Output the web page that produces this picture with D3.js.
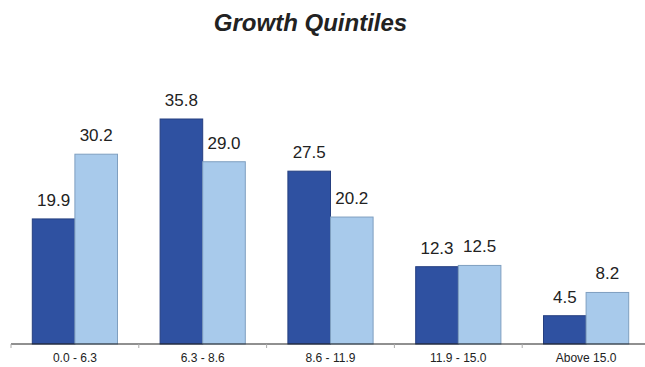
<!DOCTYPE html>
<html>
<head>
<meta charset="utf-8">
<script src="https://cdn.jsdelivr.net/npm/d3@7"></script>
<style>
  html, body { margin: 0; padding: 0; background: #fff; }
  svg { display: block; }
  text { font-family: "Liberation Sans", Arial, Helvetica, sans-serif; fill: #222; }
</style>
</head>
<body>
<svg id="chart" width="645" height="367"></svg>
<script>
// Quintile ranges and the two series shown for each
const categories = ["0.0 - 6.3", "6.3 - 8.6", "8.6 - 11.9", "11.9 - 15.0", "Above 15.0"];
const seriesNames = ["A", "B"];
const seriesA = [19.9, 35.8, 27.5, 12.3, 4.5];
const seriesB = [30.2, 29.0, 20.2, 12.5, 8.2];

const rows = categories.map((c, i) => ({ cat: c, values: [seriesA[i], seriesB[i]] }));

const W = 645, H = 367;
const baseY = 344;
const svg = d3.select("#chart");

const x = d3.scaleBand().domain(categories).range([11, 650]).paddingInner(0).paddingOuter(0);
const inner = d3.scaleBand().domain(seriesNames).range([0, x.bandwidth()]).paddingInner(0).paddingOuter(0.5);
const y = d3.scaleLinear().domain([0, 35.8]).range([baseY, 119]);

const fills = { A: "#2F51A1", B: "#A8CAEB" };
const strokes = { A: "#253f80", B: "#7f9fc0" };

// Title
svg.append("text")
  .attr("x", 310.5).attr("y", 31)
  .attr("text-anchor", "middle")
  .style("font-size", "24px")
  .style("font-weight", "bold")
  .style("font-style", "italic")
  .text("Growth Quintiles");

// Bars and value labels
const groups = svg.append("g").selectAll("g")
  .data(rows).join("g")
  .attr("transform", d => `translate(${x(d.cat)},0)`);

const bars = groups.selectAll("g.bar")
  .data(d => d.values.map((v, j) => ({ key: seriesNames[j], v })))
  .join("g").attr("class", "bar");

bars.append("rect")
  .attr("x", d => inner(d.key))
  .attr("y", d => y(d.v))
  .attr("width", inner.bandwidth())
  .attr("height", d => baseY - y(d.v))
  .attr("fill", d => fills[d.key])
  .attr("stroke", d => strokes[d.key])
  .attr("stroke-width", 1);

bars.append("text")
  .attr("x", d => inner(d.key) + inner.bandwidth() / 2)
  .attr("y", d => y(d.v) - 13)
  .attr("text-anchor", "middle")
  .style("font-size", "17px")
  .text(d => d.v.toFixed(1));

// Category axis
const axis = svg.append("g").attr("transform", `translate(0,${baseY})`);
axis.append("line")
  .attr("x1", 11).attr("x2", W)
  .attr("y1", 0).attr("y2", 0)
  .attr("stroke", "#222").attr("stroke-width", 1.2);

axis.selectAll("line.tick")
  .data(categories).join("line")
  .attr("class", "tick")
  .attr("x1", d => x(d)).attr("x2", d => x(d))
  .attr("y1", 0).attr("y2", 4)
  .attr("stroke", "#aaa");

axis.selectAll("text.cat")
  .data(categories).join("text")
  .attr("class", "cat")
  .attr("x", d => x(d) + x.bandwidth() / 2)
  .attr("y", 18)
  .attr("text-anchor", "middle")
  .style("font-size", "12px")
  .text(d => d);
</script>
</body>
</html>
